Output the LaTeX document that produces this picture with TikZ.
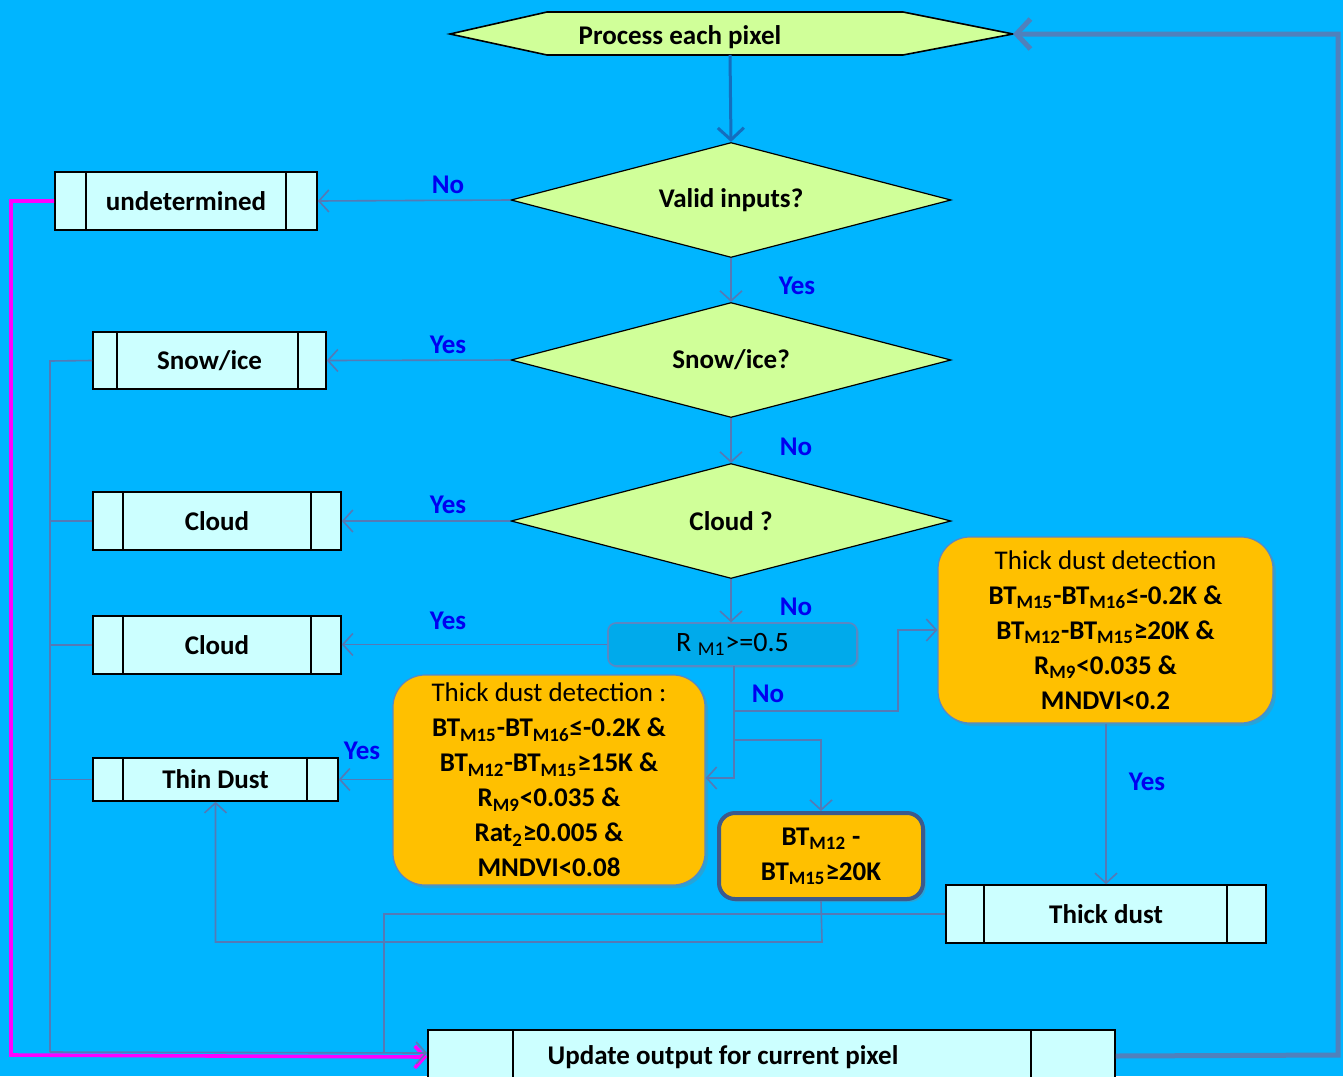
\documentclass[tikz,border=0pt]{standalone}
\usepackage{fontspec}
\setmainfont{Carlito}
\usetikzlibrary{shapes.geometric,arrows.meta,shadows,calc}
\definecolor{bg}{RGB}{0,181,255}
\definecolor{hexgreen}{RGB}{208,255,153}
\definecolor{boxcyan}{RGB}{204,255,255}
\definecolor{amber}{RGB}{255,192,0}
\definecolor{conncol}{RGB}{84,122,182}
\definecolor{lbl}{RGB}{0,0,240}
\definecolor{rbox}{RGB}{0,170,235}
\definecolor{rborder}{RGB}{90,135,195}
\definecolor{btborder}{RGB}{60,90,140}
\definecolor{fbcol}{RGB}{79,129,189}
\definecolor{topar}{RGB}{20,110,190}
\definecolor{magline}{RGB}{255,0,255}
\begin{document}
\begin{tikzpicture}[x=0.5pt,y=-0.5pt,
  basefont/.style={font=\fontsize{13.5pt}{17.5pt}\selectfont},
  predef/.style={draw=black, line width=0.8pt, fill=boxcyan, inner sep=0pt, font=\fontsize{13.5pt}{17.5pt}\selectfont\bfseries},
  decision/.style={diamond, draw=black, line width=0.6pt, fill=hexgreen, inner sep=0pt, aspect=3.8, font=\fontsize{13.5pt}{17.5pt}\selectfont\bfseries},
  conn/.style={draw=conncol, line width=0.8pt},
  tip/.style={-{Straight Barb[length=5pt,width=11pt]}},
  lab/.style={text=lbl, font=\fontsize{13.5pt}{17.5pt}\selectfont\bfseries, inner sep=0pt},
  cond/.style={rounded corners=16pt, fill=amber, draw=rborder, line width=0.6pt, align=center, inner sep=0pt,
    drop shadow={opacity=0.3, shadow xshift=1.5pt, shadow yshift=-1.5pt},
    font=\fontsize{13.5pt}{17.5pt}\selectfont\bfseries},
]
% background
\fill[bg] (0,0) rectangle (1343,1076);
\useasboundingbox (0,0) rectangle (1343,1076);
\clip (0,0) rectangle (1343,1076);

% hexagon start
\draw[fill=hexgreen, line width=0.8pt] (450,34) -- (547,12) -- (903,12) -- (1013,34) -- (903,55) -- (547,55) -- cycle;
\node[font=\fontsize{13.5pt}{17.5pt}\selectfont\bfseries] (hexT) at (680,37) {Process each pixel};
\coordinate (hexR) at (1013,34);
\coordinate (hexB) at (730,55);

% decisions
\node[decision, minimum width=220pt, minimum height=57.5pt] (valid) at (731,200) {Valid inputs?};
\node[decision, minimum width=220pt, minimum height=57.5pt] (snowq) at (731,360) {Snow/ice?};
\node[decision, minimum width=220pt, minimum height=57.5pt] (cloudq) at (731,521) {Cloud ?};

% predefined process boxes
\node[predef, minimum width=131pt, minimum height=29pt] (und) at (186,201) {undetermined};
\node[predef, minimum width=116.5pt, minimum height=28.5pt] (snow) at (209.5,360.5) {Snow/ice};
\node[predef, minimum width=124pt, minimum height=29pt] (cloudA) at (217,521) {Cloud};
\node[predef, minimum width=124pt, minimum height=29pt] (cloudB) at (217,645) {Cloud};
\node[predef, minimum width=122.5pt, minimum height=21.5pt] (thin) at (215.5,779.5) {Thin Dust};
\node[predef, minimum width=160pt, minimum height=29pt] (thick) at (1106,914) {Thick dust};
\node[predef, minimum width=343.5pt, minimum height=26pt] (upd) at (771.5,1056) {};
\node[font=\fontsize{13.5pt}{17.5pt}\selectfont\bfseries] (updT) at (723,1057) {Update output for current pixel};

\begin{scope}[black, line width=0.8pt]
\draw ([xshift=16pt]und.north west) -- ([xshift=16pt]und.south west);
\draw ([xshift=-16pt]und.north east) -- ([xshift=-16pt]und.south east);
\draw ([xshift=12.5pt]snow.north west) -- ([xshift=12.5pt]snow.south west);
\draw ([xshift=-14.5pt]snow.north east) -- ([xshift=-14.5pt]snow.south east);
\draw ([xshift=15.5pt]cloudA.north west) -- ([xshift=15.5pt]cloudA.south west);
\draw ([xshift=-15.5pt]cloudA.north east) -- ([xshift=-15.5pt]cloudA.south east);
\draw ([xshift=15.5pt]cloudB.north west) -- ([xshift=15.5pt]cloudB.south west);
\draw ([xshift=-15.5pt]cloudB.north east) -- ([xshift=-15.5pt]cloudB.south east);
\draw ([xshift=15.5pt]thin.north west) -- ([xshift=15.5pt]thin.south west);
\draw ([xshift=-16pt]thin.north east) -- ([xshift=-16pt]thin.south east);
\draw ([xshift=19.5pt]thick.north west) -- ([xshift=19.5pt]thick.south west);
\draw ([xshift=-20pt]thick.north east) -- ([xshift=-20pt]thick.south east);
\draw ([xshift=43pt]upd.north west) -- ([xshift=43pt]upd.south west);
\draw ([xshift=-42.5pt]upd.north east) -- ([xshift=-42.5pt]upd.south east);
\end{scope}

% R box
\node[rounded corners=4pt, fill=rbox, draw=rborder, line width=0.8pt, minimum width=124.5pt, minimum height=21.5pt,
  inner sep=0pt, font=\fontsize{14pt}{17pt}\selectfont,
  drop shadow={opacity=0.25, shadow xshift=1pt, shadow yshift=-1pt}] (rbx) at (732.5,644.5) {R \textsubscript{M1}>=0.5};

% condition boxes
\node[cond, minimum width=156pt, minimum height=105pt] (tdl) at (549,780)
  {{\mdseries Thick dust detection :}\\
   BT\textsubscript{M15}-BT\textsubscript{M16}≤-0.2K \&\\
   BT\textsubscript{M12}-BT\textsubscript{M15}≥15K \&\\
   R\textsubscript{M9}<0.035 \&\\
   Rat\textsubscript{2}≥0.005 \&\\
   MNDVI<0.08};
\node[cond, minimum width=167.5pt, minimum height=93pt] (tdr) at (1105.5,630)
  {{\mdseries Thick dust detection}\\
   BT\textsubscript{M15}-BT\textsubscript{M16}≤-0.2K \&\\
   BT\textsubscript{M12}-BT\textsubscript{M15}≥20K \&\\
   R\textsubscript{M9}<0.035 \&\\
   MNDVI<0.2};
\node[cond, rounded corners=8pt, draw=btborder, line width=2pt, minimum width=102pt, minimum height=43pt] (bt) at (821,856)
  {BT\textsubscript{M12} -\\BT\textsubscript{M15}≥20K};

% main flow
\draw[topar, line width=1.5pt, -{Straight Barb[length=6pt,width=13pt]}] (hexB) -- (valid.north);
\draw[conn, tip] (valid.south) -- (snowq.north);
\draw[conn, tip] (snowq.south) -- (cloudq.north);
\draw[conn, tip] (cloudq.south) -- (cloudq.south |- rbx.north);
\draw[conn, tip] (valid.west) -- (und.east);
\draw[conn, tip] (snowq.west) -- (snow.east);
\draw[conn, tip] (cloudq.west) -- (cloudA.east);
\draw[conn, tip] (rbx.west) -- (cloudB.east |- rbx.west);

% branches below R box
\coordinate (rb) at (734,666);
\coordinate (rbA) at (734,711);
\coordinate (rbB) at (734,740);
\coordinate (rbC) at (734,778);
\coordinate (vR) at (898,711);
\draw[conn, tip] (rb) -- (rbC) -- (rbC -| tdl.east);
\draw[conn, tip] (rbA) -- (vR) |- (tdr.west);
\draw[conn, tip] (rbB) -| (bt.north);
\draw[conn, tip] (tdl.west |- thin.east) -- (thin.east);
\draw[conn, tip] (tdr.south -| thick.north) -- (thick.north);

% BT -> thin dust
\coordinate (btd) at (822,942);
\draw[conn, tip] (bt.south) -- (btd) -| (thin.south);

% collector on the left
\coordinate (colTop) at (50,361);
\coordinate (colBot) at (50,1052);
\draw[conn] (cloudA.west) -- (cloudA.west -| colTop);
\draw[conn] (cloudB.west) -- (cloudB.west -| colTop);
\draw[conn] (thin.west) -- (thin.west -| colTop);
\draw[conn] (snow.west) -- (colTop) -- (colBot);
% thick dust -> bottom line
\coordinate (jn) at (384,1052);
\draw[conn] (thick.west) -| (jn);

% magenta line from undetermined
\coordinate (m1) at (11,201);
\coordinate (m2) at (11,1055);
\draw[magline, line width=1.8pt, -{Straight Barb[length=5pt,width=11pt]}] (und.west) -- (m1) -- (m2) -- ([yshift=-0.5pt]upd.west);
\draw[conn, tip] (colBot) -- ([yshift=1.5pt]upd.west);

% feedback loop
\coordinate (f1) at (1338,1055);
\coordinate (f2) at (1338,34);
\draw[fbcol, line width=2.5pt, -{Straight Barb[length=7pt,width=15pt]}] (upd.east) -- (f1) -- (f2) -- (hexR);

% labels
\node[lab] (l1) at (448,185) {No};
\node[lab] (l2) at (797,286) {Yes};
\node[lab] (l3) at (448,345) {Yes};
\node[lab] (l4) at (796,447) {No};
\node[lab] (l5) at (448,505) {Yes};
\node[lab] (l6) at (796,607) {No};
\node[lab] (l7) at (448,621) {Yes};
\node[lab] (l8) at (768,694) {No};
\node[lab] (l9) at (362,751) {Yes};
\node[lab] (l10) at (1147,782) {Yes};
\end{tikzpicture}
\end{document}
